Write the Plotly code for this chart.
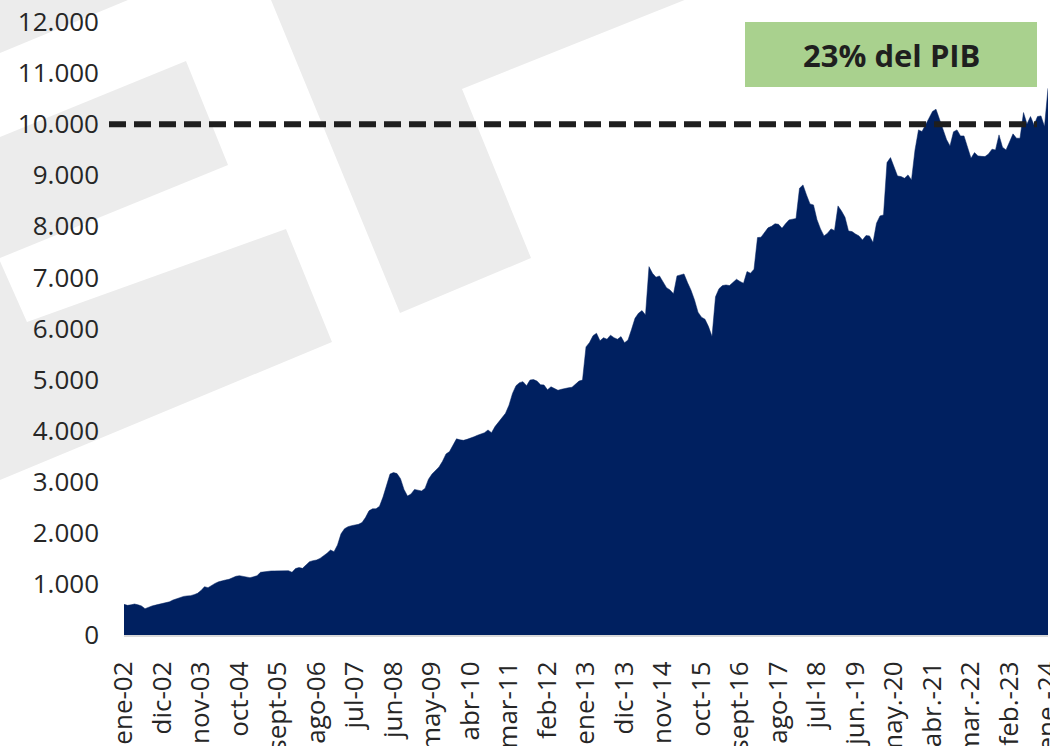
import plotly.graph_objects as go

# ---------------- data ----------------
tick_labels = ["ene-02", "dic-02", "nov-03", "oct-04", "sept-05", "ago-06", "jul-07",
               "jun-08", "may-09", "abr-10", "mar-11", "feb-12", "ene-13", "dic-13",
               "nov-14", "oct-15", "sept-16", "ago-17", "jul-18", "jun.-19", "may.-20",
               "abr.-21", "mar.-22", "feb.-23", "ene.-24"]

v2002 = [600, 580, 590, 607, 590, 568, 515, 545, 568, 585, 600, 610]
v2003 = [633, 650, 685, 710, 738, 755, 765, 770, 790, 815, 870, 946]
v2004 = [926, 970, 1010, 1040, 1065, 1077, 1090, 1120, 1150, 1161, 1145, 1130]
v2005 = [1122, 1140, 1161, 1227, 1240, 1248, 1253, 1255, 1258, 1259, 1257, 1259]
v2006 = [1227, 1300, 1320, 1305, 1370, 1435, 1455, 1468, 1500, 1547, 1600, 1664]
v2007 = [1631, 1762, 1980, 2080, 2120, 2140, 2150, 2167, 2200, 2300, 2430, 2470]
v2008 = [2470, 2520, 2700, 2950, 3150, 3180, 3160, 3060, 2850, 2720, 2760, 2850]
v2009 = [2840, 2820, 2870, 3050, 3150, 3220, 3290, 3400, 3544, 3590, 3720, 3840]
v2010 = [3820, 3810, 3830, 3850, 3880, 3910, 3940, 3960, 4014, 3960, 4080, 4160]
v2011 = [4250, 4340, 4500, 4730, 4880, 4940, 4960, 4880, 4990, 5000, 4970, 4900]
v2012 = [4895, 4800, 4860, 4820, 4790, 4810, 4830, 4840, 4850, 4920, 4970, 4990]
v2013 = [5640, 5724, 5860, 5907, 5760, 5820, 5790, 5870, 5820, 5790, 5841, 5720]
v2014 = [5776, 5980, 6200, 6300, 6350, 6266, 7211, 7080, 7004, 7029, 6900, 6800]
v2015 = [6755, 6680, 7030, 7050, 7068, 6900, 6750, 6560, 6320, 6220, 6181, 6037]
v2016 = [5841, 6620, 6780, 6840, 6853, 6840, 6900, 6964, 6920, 6886, 7114, 7082]
v2017 = [7160, 7780, 7787, 7880, 7970, 8000, 8050, 8040, 7963, 8050, 8126, 8140]
v2018 = [8152, 8746, 8811, 8615, 8439, 8419, 8130, 7950, 7813, 7865, 7950, 7917]
v2019 = [8400, 8300, 8178, 7910, 7897, 7850, 7813, 7734, 7819, 7813, 7682, 8061]
v2020 = [8204, 8224, 9248, 9346, 9183, 8987, 8974, 8941, 9007, 8909, 9496, 9888]
v2021 = [9855, 10000, 10117, 10250, 10293, 10097, 9900, 9700, 9575, 9850, 9888, 9770]
v2022 = [9770, 9549, 9334, 9443, 9379, 9370, 9365, 9418, 9510, 9496, 9790, 9549]
v2023 = [9496, 9650, 9810, 9725, 9725, 10227, 10005, 10149, 9986, 10149, 10162, 9953]
v2024 = [10704]

values = (v2002 + v2003 + v2004 + v2005 + v2006 + v2007 + v2008 + v2009 + v2010 +
          v2011 + v2012 + v2013 + v2014 + v2015 + v2016 + v2017 + v2018 + v2019 +
          v2020 + v2021 + v2022 + v2023 + v2024)
months = list(range(len(values)))

threshold = 10000
y_max = 12000
label_text = "23% del PIB"

# ---------------- layout constants ----------------
W, H = 1050, 746
ML, MR, MT, MB = 124, 2, 22, 111
PW, PH = W - ML - MR, H - MT - MB
FONT = "Open Sans"
TXT = "#262626"
NAVY = "#002060"


def px2paper(pts):
    return [((x - ML) / PW, (H - MB - y) / PH) for x, y in pts]


def poly_path(pts):
    p = px2paper(pts)
    return "M " + " L ".join(f"{x:.4f},{y:.4f}" for x, y in p) + " Z"


# decorative watermark polygons (pixel space of the reference)
watermark = [
    [(-5, -5), (140, -5), (-5, 55)],
    [(-5, 139), (186, 61), (228, 165), (-5, 260)],
    [(-5, 250), (27, 322), (286, 229), (332, 342), (-5, 482)],
    [(269, -5), (400, 313), (531, 258), (462, 89), (697, -5)],
]

fig = go.Figure()
fig.add_trace(go.Scatter(
    x=months, y=values, mode="lines", fill="tozeroy",
    line=dict(color=NAVY, width=0.5), fillcolor=NAVY,
    hoverinfo="skip", showlegend=False,
))

shapes = []
for poly in watermark:
    shapes.append(dict(type="path", path=poly_path(poly), xref="paper", yref="paper",
                       fillcolor="#ececec", line=dict(width=0), layer="below"))

# dashed threshold line
shapes.append(dict(type="line", xref="paper", yref="paper",
                   x0=(109 - ML) / PW, x1=(1037 - ML) / PW,
                   y0=threshold / y_max, y1=threshold / y_max,
                   line=dict(color="#1e1e1e", width=6, dash="17px,8px"), layer="above"))

# green label box
shapes.append(dict(type="rect", xref="paper", yref="paper",
                   x0=(745 - ML) / PW, x1=(1037 - ML) / PW,
                   y0=(H - MB - 87) / PH, y1=(H - MB - 22) / PH,
                   fillcolor="#a9d18e", line=dict(width=0), layer="above"))

fig.update_layout(
    width=W, height=H,
    margin=dict(l=ML, r=MR, t=MT, b=MB, autoexpand=False),
    paper_bgcolor="white", plot_bgcolor="rgba(0,0,0,0)",
    separators=",.",
    font=dict(family=FONT, color=TXT, size=26),
    shapes=shapes,
    annotations=[dict(
        x=((745 + 1037) / 2 - ML) / PW, y=(H - MB - 55) / PH,
        xref="paper", yref="paper", text=f"<b>{label_text}</b>", showarrow=False,
        font=dict(family=FONT, size=31, color="#1f1f1f"),
        xanchor="center", yanchor="middle")],
    xaxis=dict(
        range=[0, len(values) - 1], tickmode="array",
        tickvals=list(range(0, len(values), 11)), ticktext=tick_labels,
        tickangle=-90, tickfont=dict(size=26, color=TXT, family=FONT),
        showgrid=False, zeroline=False, showline=True, linecolor="#d9d9d9",
        linewidth=2, ticks="", ticklabelstandoff=14, automargin=False,
        ticklabeloverflow="allow",
    ),
    yaxis=dict(
        range=[0, y_max], tickmode="linear", tick0=0, dtick=1000, tickformat=",d",
        tickfont=dict(size=26, color=TXT, family=FONT),
        showgrid=False, zeroline=False, showline=False, ticks="",
        ticklabelstandoff=24, automargin=False, ticklabeloverflow="allow",
    ),
)

fig.write_html(
    "out.html",
    config={"displayModeBar": False},
    post_script="document.body.style.margin='0px';document.body.style.overflow='hidden';",
)
